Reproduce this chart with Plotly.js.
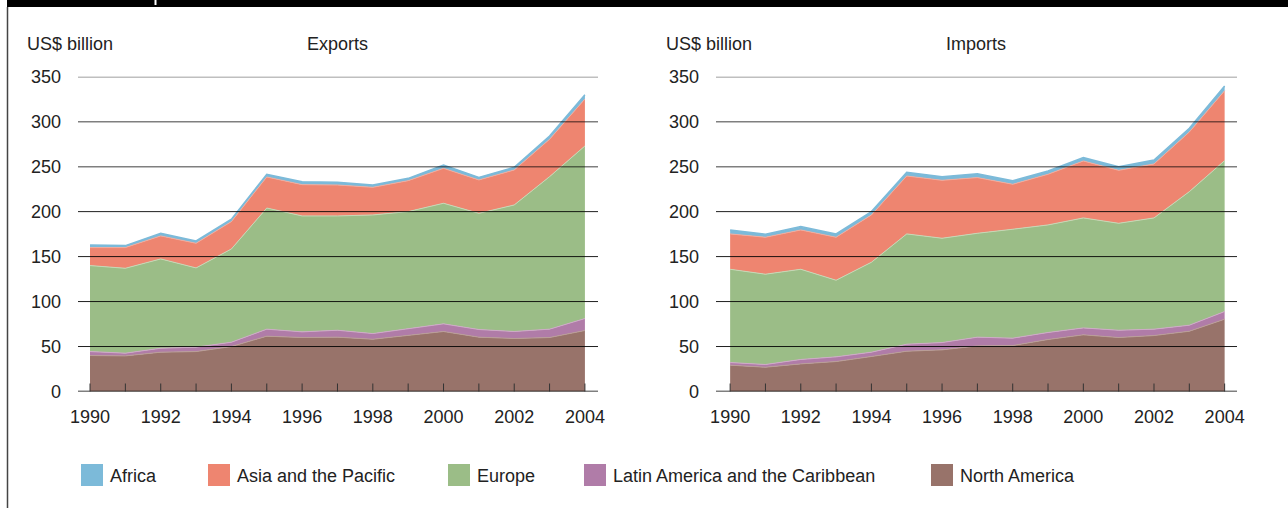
<!DOCTYPE html>
<html>
<head>
<meta charset="utf-8">
<script src="https://cdn.plot.ly/plotly-3.0.1.min.js"></script>
<style>html,body{margin:0;padding:0;background:#fff;}#chart{width:1288px;height:508px;}</style>
</head>
<body>
<div id="chart"></div>
<script>
// ---------- DATA ----------
const years = [1990,1991,1992,1993,1994,1995,1996,1997,1998,1999,2000,2001,2002,2003,2004];
const regions = ["Africa", "Asia and the Pacific", "Europe", "Latin America and the Caribbean", "North America"];

// Exports, US$ billion
const expNorthAmerica = [40, 39.6, 43.7, 44.4, 50, 61.5, 60, 60.4, 58.1, 62.2, 66.7, 60.4, 58.9, 60, 67.8];
const expLatinAmerica = [4.4, 3, 4.4, 4.9, 4.8, 7.8, 6.3, 7.7, 6.3, 7.4, 8.5, 8.5, 7.8, 9.3, 13.3];
const expEurope       = [95.6, 94.4, 99.3, 88.1, 103.7, 134.7, 128.9, 127.1, 131.9, 130.4, 134.1, 129.2, 140.7, 169.6, 191.9];
const expAsiaPacific  = [20, 23, 25.6, 27.4, 30.4, 34.5, 34.8, 34.4, 30.7, 34.4, 38.8, 37.1, 38.9, 41.5, 52.2];
const expAfrica       = [3, 2.2, 3, 2.6, 2.6, 3, 3.3, 3, 2.6, 2.6, 3.8, 2.9, 3, 3.6, 4.8];

// Imports, US$ billion
const impNorthAmerica = [29.3, 27, 30.7, 33.3, 38.9, 44.8, 46.3, 50.7, 51.1, 57.8, 63, 60, 62.2, 67, 80.4];
const impLatinAmerica = [2.9, 3, 4.9, 5.2, 4.8, 7.8, 8.1, 9.7, 8.2, 7.8, 7.7, 8.1, 7.1, 6.7, 8.5];
const impEurope       = [103.7, 100.4, 100.3, 85.2, 100, 122.6, 116, 115.5, 121.1, 119.6, 122.3, 118.9, 123.7, 148.5, 167.8];
const impAsiaPacific  = [39.3, 41.1, 43.7, 47.8, 52.6, 64.4, 64.4, 61.9, 50, 56.3, 63.3, 58.9, 60, 66.3, 77.7];
const impAfrica       = [4.4, 3.3, 3.7, 3.7, 3.7, 4.1, 4.1, 4.4, 4, 3.7, 3.7, 4.1, 4.4, 4.1, 5.2];

const yTicks = [0, 50, 100, 150, 200, 250, 300, 350];
const xTickLabels = years.map(y => (y % 2 === 0 ? String(y) : ""));
const panelTitles = ["Exports", "Imports"];
const yUnit = "US$ billion";

// ---------- STYLE ----------
const colors = {
  "Africa": "#7cbad9",
  "Asia and the Pacific": "#ee8570",
  "Europe": "#9bbd87",
  "Latin America and the Caribbean": "#b07ca8",
  "North America": "#98736a"
};
const edge = {
  "Africa": "#7cbad9",
  "Asia and the Pacific": "#f3ab9c",
  "Europe": "#c4d9b6",
  "Latin America and the Caribbean": "#cfa9c8",
  "North America": "#b99e96"
};
const FONT = "'Liberation Sans', Arial, Helvetica, sans-serif";
const FS = 18;
const TXT = "#222";
const W = 1288, H = 508;
const px = v => v / W;
const py = v => 1 - v / H;

// ---------- TRACES ----------
const exportSeries = {
  "North America": expNorthAmerica,
  "Latin America and the Caribbean": expLatinAmerica,
  "Europe": expEurope,
  "Asia and the Pacific": expAsiaPacific,
  "Africa": expAfrica
};
const importSeries = {
  "North America": impNorthAmerica,
  "Latin America and the Caribbean": impLatinAmerica,
  "Europe": impEurope,
  "Asia and the Pacific": impAsiaPacific,
  "Africa": impAfrica
};
const stackOrder = ["North America", "Latin America and the Caribbean", "Europe", "Asia and the Pacific", "Africa"];

const traces = [];
function addPanel(series, xa, ya, group) {
  stackOrder.forEach(name => {
    traces.push({
      type: "scatter", mode: "lines", name: name,
      x: years, y: series[name],
      xaxis: xa, yaxis: ya, stackgroup: group,
      fillcolor: colors[name],
      line: {color: edge[name], width: name === "Africa" ? 1.5 : 1, shape: "linear"},
      showlegend: false, hoverinfo: "skip"
    });
  });
}
addPanel(exportSeries, "x", "y", "exp");
addPanel(importSeries, "x2", "y2", "imp");

// ---------- SHAPES ----------
const shapes = [];
// top bar and left frame line
shapes.push({type: "rect", xref: "paper", yref: "paper", x0: px(7), x1: 1, y0: py(7), y1: 1,
  fillcolor: "#000", line: {width: 0}, layer: "above"});
shapes.push({type: "rect", xref: "paper", yref: "paper", x0: px(154.5), x1: px(156.5), y0: py(5), y1: 1,
  fillcolor: "#fff", line: {width: 0}, layer: "above"});
shapes.push({type: "line", xref: "paper", yref: "paper", x0: px(7.5), x1: px(7.5), y0: 0, y1: py(7),
  line: {color: "#444", width: 1.5}, layer: "above"});

[["x", "y"], ["x2", "y2"]].forEach(([xa, ya]) => {
  yTicks.forEach(v => {
    let col, wd;
    if (v === 0) { col = "#000"; wd = 1.3; }
    else if (v >= 250) { col = "rgba(0,0,0,0.5)"; wd = 1.5; }
    else { col = "rgba(0,0,0,0.88)"; wd = 1; }
    shapes.push({type: "line", xref: xa + " domain", yref: ya, x0: 0, x1: 1, y0: v, y1: v,
      line: {color: col, width: wd}, layer: "above"});
  });
  years.forEach(yr => {
    shapes.push({type: "line", xref: xa, yref: ya, x0: yr, x1: yr,
      ysizemode: "pixel", yanchor: 0, y0: -9, y1: 8,
      line: {color: "#333", width: 1}, layer: "above"});
  });
});

// custom legend
const legendBoxX = [81, 208, 448, 584, 931];
const legendCY = 475, legendBox = 22;
const annotations = [];
regions.forEach((name, i) => {
  shapes.push({type: "rect", xref: "paper", yref: "paper",
    x0: px(legendBoxX[i]), x1: px(legendBoxX[i] + legendBox),
    y0: py(legendCY + legendBox / 2), y1: py(legendCY - legendBox / 2),
    fillcolor: colors[name], line: {width: 0}});
  annotations.push({xref: "paper", yref: "paper", x: px(legendBoxX[i] + legendBox + 5), y: py(legendCY + 1),
    xanchor: "left", yanchor: "middle", showarrow: false, text: name,
    font: {family: FONT, size: FS, color: TXT}});
});

// panel titles
const panels = [{left: 78, right: 598, unitX: 25}, {left: 716, right: 1237, unitX: 664}];
panels.forEach((p, i) => {
  annotations.push({xref: "paper", yref: "paper", x: px(p.unitX), y: py(44), xanchor: "left", yanchor: "middle",
    showarrow: false, text: yUnit, font: {family: FONT, size: FS, color: TXT}});
  annotations.push({xref: "paper", yref: "paper", x: px((p.left + p.right) / 2 - 1), y: py(44), xanchor: "center", yanchor: "middle",
    showarrow: false, text: panelTitles[i], font: {family: FONT, size: FS, color: TXT}});
});

// ---------- AXES ----------
const yDomain = [py(391.5), py(76.7)];
function xAxis(dom, range, anchor) {
  return {domain: dom, range: range, anchor: anchor, tickvals: years, ticktext: xTickLabels,
    ticks: "", showgrid: false, zeroline: false, showline: false, fixedrange: true,
    ticklabelstandoff: 12, tickfont: {family: FONT, size: FS, color: TXT}};
}
function yAxis(anchor) {
  return {domain: yDomain, range: [0, 350], anchor: anchor, tickvals: yTicks,
    ticks: "", showgrid: false, zeroline: false, showline: false, fixedrange: true,
    ticklabelstandoff: 16, tickfont: {family: FONT, size: FS, color: TXT}};
}

const layout = {
  width: W, height: H, autosize: false,
  margin: {l: 0, r: 0, t: 0, b: 0, pad: 0},
  paper_bgcolor: "#fff", plot_bgcolor: "rgba(0,0,0,0)",
  font: {family: FONT, size: FS, color: TXT},
  showlegend: false,
  xaxis: xAxis([px(78), px(598)], [1989.66, 2004.37], "y"),
  yaxis: yAxis("x"),
  xaxis2: xAxis([px(716), px(1237)], [1989.6, 2004.35], "y2"),
  yaxis2: yAxis("x2"),
  shapes: shapes,
  annotations: annotations
};

Plotly.newPlot("chart", traces, layout, {staticPlot: true, displayModeBar: false});
</script>
</body>
</html>
